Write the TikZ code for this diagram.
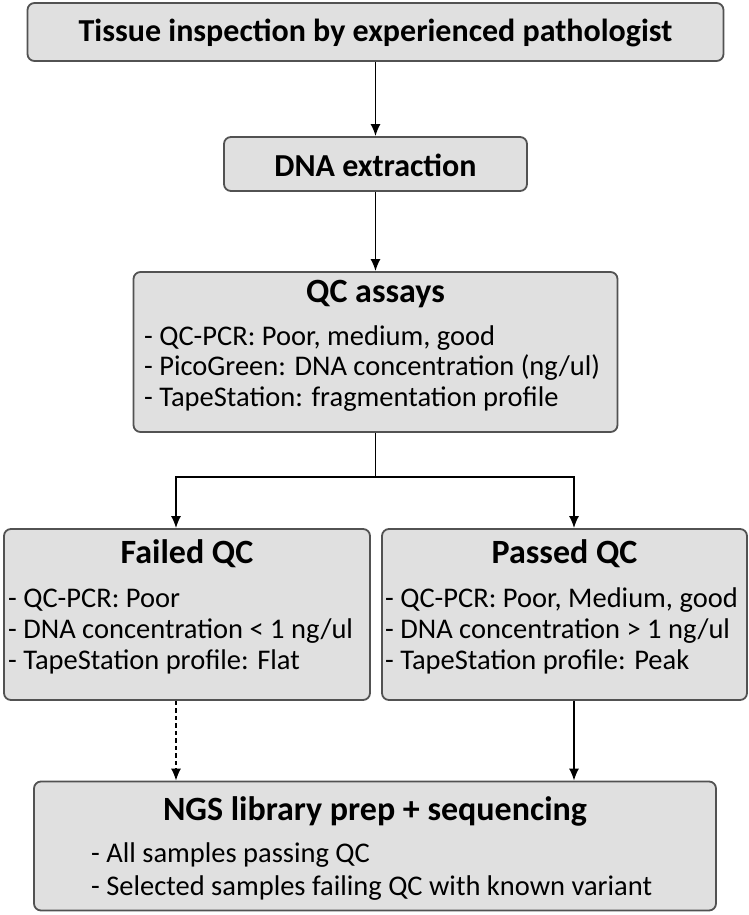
\documentclass[tikz,border=0pt]{standalone}
\usepackage{fontspec}
\setmainfont{Carlito}
\usetikzlibrary{arrows.meta}
\begin{document}
\begin{tikzpicture}[x=1pt,y=-1pt,
  box/.style={draw=black!68,line width=1.8pt,fill=black!12,rounded corners=7pt,inner sep=0pt},
  ttl/.style={font=\bfseries\fontsize{34}{38}\selectfont,inner sep=0pt},
  ttlb/.style={font=\bfseries\fontsize{32}{36}\selectfont,inner sep=0pt},
  txt/.style={font=\fontsize{28.5}{32}\selectfont,anchor=west,inner sep=0pt},
  arr/.style={line width=1.5pt,-{Latex[length=12pt,width=10pt]}}]
\useasboundingbox (0,0) rectangle (749,915);
\node[box,minimum width=696pt,minimum height=58pt] (b1) at (375.5,32) {};
\node[ttlb] (t1) at (375.5,33) {Tissue inspection by experienced pathologist};
\node[box,minimum width=303pt,minimum height=54pt] (b2) at (375.5,164) {};
\node[ttlb] (t2) at (375.5,165) {DNA extraction};
\node[box,minimum width=484pt,minimum height=160pt] (b3) at (375.5,352) {};
\node[ttl] (t3) at (375.5,294) {QC assays};
\node[txt] (l31) at (144,338) {- QC-PCR: Poor, medium, good};
\node[txt] (l32) at (144,368) {- PicoGreen: DNA concentration (ng/ul)};
\node[txt] (l33) at (144,399) {- TapeStation: fragmentation profile};
\node[box,minimum width=366pt,minimum height=171pt] (b4) at (187,614.5) {};
\node[ttl] (t4) at (187,554) {Failed QC};
\node[txt] (l41) at (8,600) {- QC-PCR: Poor};
\node[txt] (l42) at (8,631) {- DNA concentration < 1 ng/ul};
\node[txt] (l43) at (8,662) {- TapeStation profile: Flat};
\node[box,minimum width=365pt,minimum height=171pt] (b5) at (564.5,614.5) {};
\node[ttl] (t5) at (564.5,554) {Passed QC};
\node[txt] (l51) at (385,600) {- QC-PCR: Poor, Medium, good};
\node[txt] (l52) at (385,631) {- DNA concentration > 1 ng/ul};
\node[txt] (l53) at (385,662) {- TapeStation profile: Peak};
\node[box,minimum width=682pt,minimum height=129pt] (b6) at (375,846) {};
\node[ttl] (t6) at (375,811) {NGS library prep + sequencing};
\node[txt] (l61) at (91,855) {- All samples passing QC};
\node[txt] (l62) at (91,888) {- Selected samples failing QC with known variant};
\coordinate (j) at (375.5,477);
\coordinate (fx) at (176,0);
\coordinate (px) at (574,0);
\draw[arr] (b1) -- (b2);
\draw[arr] (b2) -- (b3);
\draw[line width=1.5pt] (b3) -- (j);
\draw[arr] (j) -| (b4.north -| fx);
\draw[arr] (j) -| (b5.north -| px);
\draw[arr,dash pattern=on 4.5pt off 3pt] (b4.south -| fx) -- (b6.north -| fx);
\draw[arr] (b5.south -| px) -- (b6.north -| px);
\end{tikzpicture}
\end{document}
